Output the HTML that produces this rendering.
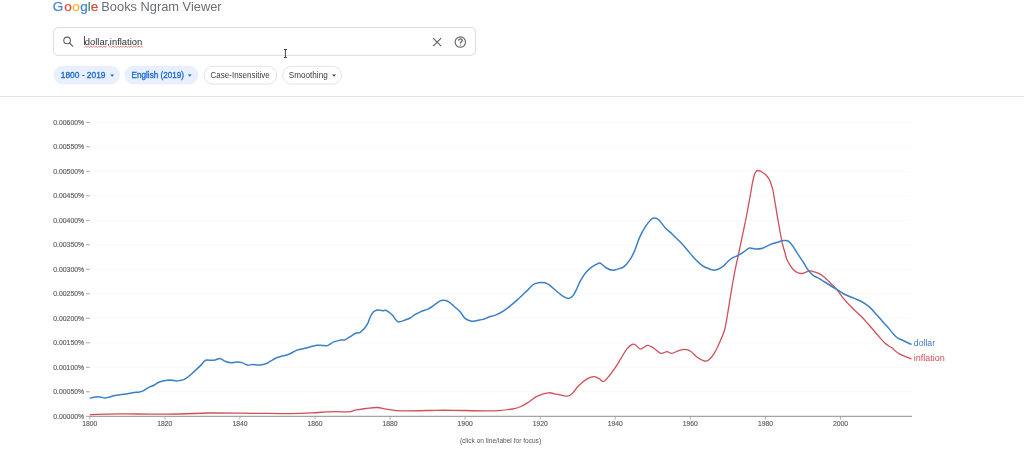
<!DOCTYPE html>
<html lang="en">
<head>
<meta charset="utf-8">
<title>Google Books Ngram Viewer</title>
<style>
html,body{margin:0;padding:0;background:#fff;width:1024px;height:468px;overflow:hidden;}
svg{display:block;position:absolute;left:0;top:0;}
</style>
</head>
<body>
<svg width="1024" height="468" viewBox="0 0 1024 468" font-family="Liberation Sans, Arial, sans-serif">
<text x="52.7 64.3 72.3 80.2 87.7 90.8" y="10.9" font-size="13.6" stroke-width="0.22"><tspan fill="#4781dc" stroke="#4781dc">G</tspan><tspan fill="#df4a3c" stroke="#df4a3c">o</tspan><tspan fill="#f1b52a" stroke="#f1b52a">o</tspan><tspan fill="#4781dc" stroke="#4781dc">g</tspan><tspan fill="#2f9e5a" stroke="#2f9e5a">l</tspan><tspan fill="#df4a3c" stroke="#df4a3c">e</tspan></text>
<text x="101.3" y="11.3" font-size="12.6" textLength="120.3" lengthAdjust="spacingAndGlyphs" fill="#6b6e72" >Books Ngram Viewer</text>
<rect x="53.6" y="27.6" width="421.9" height="27.7" rx="4.5" fill="#fff" stroke="#dadce0" stroke-width="1"/>
<circle cx="67.1" cy="40.4" r="3.3" fill="none" stroke="#5f6368" stroke-width="1.1"/>
<line x1="69.6" y1="43.0" x2="72.6" y2="46.2" stroke="#5f6368" stroke-width="1.2" stroke-linecap="round"/>
<text x="84.8" y="44.6" font-size="9.3" textLength="57.4" lengthAdjust="spacingAndGlyphs" fill="#2a2b2e" >dollar,inflation</text>
<rect x="84.0" y="36.1" width="0.9" height="8.8" fill="#3a3a3a"/>
<path d="M84.4,47.3 l1.3,-1.2 l1.3,1.2 l1.3,-1.2 l1.3,1.2 l1.3,-1.2 l1.3,1.2 l1.3,-1.2 l1.3,1.2 l1.3,-1.2 l1.3,1.2 l1.3,-1.2 l1.3,1.2 l1.3,-1.2 l1.3,1.2 l1.3,-1.2 l1.3,1.2 l1.3,-1.2" fill="none" stroke="#c94848" stroke-width="0.7"/>
<path d="M109.1,47.3 l1.3,-1.2 l1.3,1.2 l1.3,-1.2 l1.3,1.2 l1.3,-1.2 l1.3,1.2 l1.3,-1.2 l1.3,1.2 l1.3,-1.2 l1.3,1.2 l1.3,-1.2 l1.3,1.2 l1.3,-1.2 l1.3,1.2 l1.3,-1.2 l1.3,1.2 l1.3,-1.2 l1.3,1.2 l1.3,-1.2 l1.3,1.2 l1.3,-1.2 l1.3,1.2 l1.3,-1.2 l1.3,1.2 l1.3,-1.2 l1.3,1.2" fill="none" stroke="#c94848" stroke-width="0.7"/>
<path d="M433.1,38.2 L441.1,46.2 M441.1,38.2 L433.1,46.2" stroke="#5f6368" stroke-width="1.15" fill="none"/>
<circle cx="460.3" cy="42.1" r="5.2" fill="none" stroke="#5f6368" stroke-width="1.1"/>
<path d="M458.5,40.7 C458.5,38.4 462.2,38.4 462.2,40.5 C462.2,41.8 460.3,41.9 460.3,43.6" fill="none" stroke="#5f6368" stroke-width="1.25"/>
<circle cx="460.3" cy="45.2" r="0.6" fill="#5f6368"/>
<path d="M283.9,49.5 H286.9 M285.4,49.5 V57.5 M283.9,57.5 H286.9" stroke="#454545" stroke-width="1" fill="none"/>

<g transform="translate(0,0.4)">
<rect x="53.5" y="65.4" width="66.4" height="18.6" rx="9.3" fill="#e8f0fe"/>
<text x="60.8" y="78" font-size="9" textLength="44.7" lengthAdjust="spacingAndGlyphs" fill="#1967d2" stroke="#1967d2" stroke-width="0.32">1800 - 2019</text>
<path d="M110.2,74.2 h3.9 l-1.95,2.1 z" fill="#1967d2"/>
<rect x="124.6" y="65.4" width="73.7" height="18.6" rx="9.3" fill="#e8f0fe"/>
<text x="131.6" y="78" font-size="9" textLength="52.3" lengthAdjust="spacingAndGlyphs" fill="#1967d2" stroke="#1967d2" stroke-width="0.32">English (2019)</text>
<path d="M187.8,74.2 h3.9 l-1.95,2.1 z" fill="#1967d2"/>
<rect x="204.1" y="65.9" width="72.6" height="17.8" rx="8.9" fill="#fff" stroke="#e3e4e6" stroke-width="1"/>
<text x="210.6" y="78" font-size="9" textLength="59.1" lengthAdjust="spacingAndGlyphs" fill="#3c4043" >Case-Insensitive</text>
<rect x="282.7" y="65.9" width="58.8" height="17.8" rx="8.9" fill="#fff" stroke="#e3e4e6" stroke-width="1"/>
<text x="288.75" y="78" font-size="9" textLength="39" lengthAdjust="spacingAndGlyphs" fill="#3c4043" >Smoothing</text>
<path d="M332.1,74.2 h3.9 l-1.95,2.1 z" fill="#3c4043"/>
</g>
<rect x="0" y="96" width="1024" height="1" fill="#e4e4e4"/>

<g><line x1="94" x2="911" y1="391.8" y2="391.8" stroke="#f9f9f9" stroke-width="1"/><line x1="94" x2="911" y1="367.3" y2="367.3" stroke="#f9f9f9" stroke-width="1"/><line x1="94" x2="911" y1="342.8" y2="342.8" stroke="#f9f9f9" stroke-width="1"/><line x1="94" x2="911" y1="318.3" y2="318.3" stroke="#f9f9f9" stroke-width="1"/><line x1="94" x2="911" y1="293.8" y2="293.8" stroke="#f9f9f9" stroke-width="1"/><line x1="94" x2="911" y1="269.3" y2="269.3" stroke="#f9f9f9" stroke-width="1"/><line x1="94" x2="911" y1="244.8" y2="244.8" stroke="#f9f9f9" stroke-width="1"/><line x1="94" x2="911" y1="220.3" y2="220.3" stroke="#f9f9f9" stroke-width="1"/><line x1="94" x2="911" y1="195.8" y2="195.8" stroke="#f9f9f9" stroke-width="1"/><line x1="94" x2="911" y1="171.3" y2="171.3" stroke="#f9f9f9" stroke-width="1"/><line x1="94" x2="911" y1="146.8" y2="146.8" stroke="#f9f9f9" stroke-width="1"/><line x1="94" x2="911" y1="122.3" y2="122.3" stroke="#f9f9f9" stroke-width="1"/></g>
<g><text x="53.2" y="418.7" font-size="8.1" textLength="31" lengthAdjust="spacingAndGlyphs" fill="#606060" stroke="#606060" stroke-width="0.18">0.00000%</text><line x1="86" x2="89.8" y1="416.3" y2="416.3" stroke="#9a9a9a" stroke-width="0.9"/><text x="53.2" y="394.2" font-size="8.1" textLength="31" lengthAdjust="spacingAndGlyphs" fill="#606060" stroke="#606060" stroke-width="0.18">0.00050%</text><line x1="86" x2="89.8" y1="391.8" y2="391.8" stroke="#9a9a9a" stroke-width="0.9"/><text x="53.2" y="369.7" font-size="8.1" textLength="31" lengthAdjust="spacingAndGlyphs" fill="#606060" stroke="#606060" stroke-width="0.18">0.00100%</text><line x1="86" x2="89.8" y1="367.3" y2="367.3" stroke="#9a9a9a" stroke-width="0.9"/><text x="53.2" y="345.2" font-size="8.1" textLength="31" lengthAdjust="spacingAndGlyphs" fill="#606060" stroke="#606060" stroke-width="0.18">0.00150%</text><line x1="86" x2="89.8" y1="342.8" y2="342.8" stroke="#9a9a9a" stroke-width="0.9"/><text x="53.2" y="320.7" font-size="8.1" textLength="31" lengthAdjust="spacingAndGlyphs" fill="#606060" stroke="#606060" stroke-width="0.18">0.00200%</text><line x1="86" x2="89.8" y1="318.3" y2="318.3" stroke="#9a9a9a" stroke-width="0.9"/><text x="53.2" y="296.2" font-size="8.1" textLength="31" lengthAdjust="spacingAndGlyphs" fill="#606060" stroke="#606060" stroke-width="0.18">0.00250%</text><line x1="86" x2="89.8" y1="293.8" y2="293.8" stroke="#9a9a9a" stroke-width="0.9"/><text x="53.2" y="271.7" font-size="8.1" textLength="31" lengthAdjust="spacingAndGlyphs" fill="#606060" stroke="#606060" stroke-width="0.18">0.00300%</text><line x1="86" x2="89.8" y1="269.3" y2="269.3" stroke="#9a9a9a" stroke-width="0.9"/><text x="53.2" y="247.2" font-size="8.1" textLength="31" lengthAdjust="spacingAndGlyphs" fill="#606060" stroke="#606060" stroke-width="0.18">0.00350%</text><line x1="86" x2="89.8" y1="244.8" y2="244.8" stroke="#9a9a9a" stroke-width="0.9"/><text x="53.2" y="222.7" font-size="8.1" textLength="31" lengthAdjust="spacingAndGlyphs" fill="#606060" stroke="#606060" stroke-width="0.18">0.00400%</text><line x1="86" x2="89.8" y1="220.3" y2="220.3" stroke="#9a9a9a" stroke-width="0.9"/><text x="53.2" y="198.2" font-size="8.1" textLength="31" lengthAdjust="spacingAndGlyphs" fill="#606060" stroke="#606060" stroke-width="0.18">0.00450%</text><line x1="86" x2="89.8" y1="195.8" y2="195.8" stroke="#9a9a9a" stroke-width="0.9"/><text x="53.2" y="173.7" font-size="8.1" textLength="31" lengthAdjust="spacingAndGlyphs" fill="#606060" stroke="#606060" stroke-width="0.18">0.00500%</text><line x1="86" x2="89.8" y1="171.3" y2="171.3" stroke="#9a9a9a" stroke-width="0.9"/><text x="53.2" y="149.2" font-size="8.1" textLength="31" lengthAdjust="spacingAndGlyphs" fill="#606060" stroke="#606060" stroke-width="0.18">0.00550%</text><line x1="86" x2="89.8" y1="146.8" y2="146.8" stroke="#9a9a9a" stroke-width="0.9"/><text x="53.2" y="124.7" font-size="8.1" textLength="31" lengthAdjust="spacingAndGlyphs" fill="#606060" stroke="#606060" stroke-width="0.18">0.00600%</text><line x1="86" x2="89.8" y1="122.3" y2="122.3" stroke="#9a9a9a" stroke-width="0.9"/></g>
<g><text x="82.2" y="426.1" font-size="7" textLength="15.1" lengthAdjust="spacingAndGlyphs" fill="#5e5e5e" stroke="#5e5e5e" stroke-width="0.15">1800</text><line x1="89.8" x2="89.8" y1="416.3" y2="419.6" stroke="#a0a0a0" stroke-width="0.8"/><text x="157.3" y="426.1" font-size="7" textLength="15.1" lengthAdjust="spacingAndGlyphs" fill="#5e5e5e" stroke="#5e5e5e" stroke-width="0.15">1820</text><line x1="164.9" x2="164.9" y1="416.3" y2="419.6" stroke="#a0a0a0" stroke-width="0.8"/><text x="232.4" y="426.1" font-size="7" textLength="15.1" lengthAdjust="spacingAndGlyphs" fill="#5e5e5e" stroke="#5e5e5e" stroke-width="0.15">1840</text><line x1="239.9" x2="239.9" y1="416.3" y2="419.6" stroke="#a0a0a0" stroke-width="0.8"/><text x="307.5" y="426.1" font-size="7" textLength="15.1" lengthAdjust="spacingAndGlyphs" fill="#5e5e5e" stroke="#5e5e5e" stroke-width="0.15">1860</text><line x1="315.0" x2="315.0" y1="416.3" y2="419.6" stroke="#a0a0a0" stroke-width="0.8"/><text x="382.5" y="426.1" font-size="7" textLength="15.1" lengthAdjust="spacingAndGlyphs" fill="#5e5e5e" stroke="#5e5e5e" stroke-width="0.15">1880</text><line x1="390.1" x2="390.1" y1="416.3" y2="419.6" stroke="#a0a0a0" stroke-width="0.8"/><text x="457.6" y="426.1" font-size="7" textLength="15.1" lengthAdjust="spacingAndGlyphs" fill="#5e5e5e" stroke="#5e5e5e" stroke-width="0.15">1900</text><line x1="465.1" x2="465.1" y1="416.3" y2="419.6" stroke="#a0a0a0" stroke-width="0.8"/><text x="532.7" y="426.1" font-size="7" textLength="15.1" lengthAdjust="spacingAndGlyphs" fill="#5e5e5e" stroke="#5e5e5e" stroke-width="0.15">1920</text><line x1="540.2" x2="540.2" y1="416.3" y2="419.6" stroke="#a0a0a0" stroke-width="0.8"/><text x="607.7" y="426.1" font-size="7" textLength="15.1" lengthAdjust="spacingAndGlyphs" fill="#5e5e5e" stroke="#5e5e5e" stroke-width="0.15">1940</text><line x1="615.3" x2="615.3" y1="416.3" y2="419.6" stroke="#a0a0a0" stroke-width="0.8"/><text x="682.8" y="426.1" font-size="7" textLength="15.1" lengthAdjust="spacingAndGlyphs" fill="#5e5e5e" stroke="#5e5e5e" stroke-width="0.15">1960</text><line x1="690.4" x2="690.4" y1="416.3" y2="419.6" stroke="#a0a0a0" stroke-width="0.8"/><text x="757.9" y="426.1" font-size="7" textLength="15.1" lengthAdjust="spacingAndGlyphs" fill="#5e5e5e" stroke="#5e5e5e" stroke-width="0.15">1980</text><line x1="765.4" x2="765.4" y1="416.3" y2="419.6" stroke="#a0a0a0" stroke-width="0.8"/><text x="832.9" y="426.1" font-size="7" textLength="15.1" lengthAdjust="spacingAndGlyphs" fill="#5e5e5e" stroke="#5e5e5e" stroke-width="0.15">2000</text><line x1="840.5" x2="840.5" y1="416.3" y2="419.6" stroke="#a0a0a0" stroke-width="0.8"/></g>
<line x1="89.8" x2="912" y1="416.3" y2="416.3" stroke="#8e8e8e" stroke-width="1"/>
<path d="M89.8,414.6 C94.3,414.5 108.9,413.9 117.0,413.8 C125.1,413.7 127.9,414.0 138.4,414.0 C148.9,414.0 168.2,414.2 180.0,414.0 C191.8,413.8 197.1,413.1 209.3,413.0 C221.5,412.9 239.8,413.2 253.2,413.3 C266.6,413.4 280.1,413.7 289.9,413.6 C299.7,413.5 305.7,413.2 311.8,412.9 C317.9,412.6 322.4,412.0 326.5,411.8 C330.6,411.6 332.9,411.6 336.6,411.6 C340.4,411.6 345.7,412.2 349.0,411.9 C352.3,411.6 351.9,410.6 356.5,409.9 C361.1,409.2 371.4,407.6 376.4,407.5 C381.4,407.4 382.0,408.6 386.4,409.1 C390.8,409.7 394.7,410.6 403.0,410.8 C411.3,411.0 427.9,410.4 436.2,410.3 C444.5,410.2 444.5,410.2 452.8,410.3 C461.1,410.4 478.5,410.8 486.0,410.8 C493.5,410.9 493.3,410.9 497.8,410.6 C502.3,410.3 508.9,409.7 512.8,409.0 C516.7,408.3 518.3,407.7 521.0,406.5 C523.7,405.3 526.5,403.4 529.2,401.7 C531.9,400.0 534.2,397.7 537.4,396.2 C540.6,394.7 545.2,393.1 548.4,392.8 C551.6,392.5 553.4,393.6 556.6,394.2 C559.8,394.8 564.8,396.4 567.5,396.2 C570.2,396.0 571.2,394.5 573.0,392.8 C574.8,391.1 576.1,388.3 578.4,386.0 C580.7,383.7 584.1,380.7 586.6,379.1 C589.1,377.6 591.4,376.8 593.5,376.7 C595.6,376.6 597.3,377.7 599.0,378.5 C600.7,379.3 601.9,382.1 603.7,381.5 C605.5,380.9 607.9,377.4 609.9,375.0 C611.9,372.6 613.7,370.0 615.6,367.2 C617.5,364.4 619.2,361.2 621.1,358.2 C623.0,355.2 624.9,351.5 626.7,349.2 C628.6,346.9 630.7,345.0 632.2,344.3 C633.7,343.6 634.3,344.2 635.7,345.0 C637.1,345.8 638.6,349.1 640.6,349.2 C642.6,349.2 645.4,345.5 647.5,345.3 C649.6,345.1 650.9,346.5 653.1,347.8 C655.3,349.1 658.4,352.7 660.7,353.3 C663.0,353.9 665.0,351.7 666.9,351.7 C668.8,351.7 669.9,353.4 671.8,353.3 C673.7,353.2 675.9,351.5 678.1,350.8 C680.3,350.1 682.9,349.3 685.0,349.4 C687.1,349.5 688.5,349.9 690.6,351.3 C692.7,352.7 695.2,355.9 697.5,357.5 C699.8,359.1 702.5,360.6 704.4,361.0 C706.2,361.4 707.0,361.3 708.6,360.0 C710.2,358.7 712.4,356.3 714.2,353.3 C716.1,350.3 718.0,346.1 719.7,342.2 C721.4,338.3 723.3,334.3 724.6,329.7 C725.9,325.1 726.5,320.1 727.5,314.5 C728.5,308.9 729.5,301.8 730.5,296.0 C731.5,290.2 732.4,284.4 733.2,280.0 C734.0,275.6 734.4,273.6 735.2,269.5 C736.0,265.4 737.3,259.8 738.2,255.6 C739.1,251.4 739.8,248.1 740.6,244.3 C741.4,240.5 742.0,237.8 743.0,232.9 C744.0,228.0 745.7,220.2 746.7,215.0 C747.7,209.8 748.4,206.0 749.1,202.0 C749.8,198.0 750.4,194.5 751.0,191.1 C751.6,187.7 752.1,184.4 752.7,181.7 C753.3,179.0 753.8,176.5 754.4,174.8 C755.0,173.1 755.5,172.1 756.1,171.4 C756.7,170.7 757.5,170.5 758.2,170.5 C758.9,170.5 759.6,170.8 760.4,171.2 C761.2,171.6 762.0,172.1 762.9,172.7 C763.8,173.3 764.7,173.9 765.5,174.6 C766.3,175.3 767.0,176.2 767.6,177.0 C768.2,177.8 768.9,178.6 769.4,179.5 C769.9,180.4 770.2,181.3 770.6,182.5 C771.0,183.7 771.5,185.6 771.9,186.8 C772.3,188.1 772.4,187.3 772.9,190.0 C773.4,192.7 774.4,198.5 775.1,202.8 C775.8,207.1 776.5,211.3 777.2,215.6 C777.9,219.9 778.8,224.3 779.5,228.5 C780.2,232.7 781.1,237.3 781.7,240.5 C782.4,243.7 782.9,245.7 783.4,247.5 C783.9,249.3 784.1,249.7 784.6,251.5 C785.1,253.3 785.6,256.2 786.5,258.4 C787.4,260.6 788.5,262.8 789.8,264.8 C791.0,266.8 792.6,268.9 794.0,270.2 C795.4,271.5 796.9,272.4 798.3,272.9 C799.7,273.4 801.2,273.6 802.6,273.4 C804.0,273.2 805.6,272.2 806.8,271.8 C808.0,271.4 808.8,270.9 810.0,270.9 C811.2,270.9 812.9,271.4 814.3,271.8 C815.7,272.2 817.2,272.7 818.6,273.4 C820.0,274.1 821.5,275.0 822.9,276.1 C824.3,277.2 825.7,278.5 827.1,279.8 C828.5,281.1 830.1,282.9 831.5,284.2 C832.9,285.5 833.6,285.7 835.5,287.9 C837.4,290.1 839.9,294.0 842.6,297.3 C845.4,300.6 848.9,304.6 852.0,307.8 C855.1,311.0 858.7,313.8 861.4,316.5 C864.1,319.2 866.0,321.6 868.4,324.3 C870.8,327.0 872.8,329.4 875.5,332.5 C878.2,335.6 882.2,340.6 884.9,343.1 C887.6,345.7 889.6,346.1 891.9,347.8 C894.2,349.6 895.6,351.7 898.9,353.6 C902.2,355.5 909.4,358.1 911.5,359.0" fill="none" stroke="#cf5056" stroke-width="1.3" stroke-linejoin="round"/>
<path d="M89.8,398.3 C90.8,398.1 94.0,397.1 95.7,396.9 C97.4,396.7 98.5,396.7 100.0,396.9 C101.5,397.1 103.2,398.0 104.8,398.0 C106.4,398.0 107.9,397.3 109.6,396.9 C111.3,396.5 113.0,395.8 114.9,395.4 C116.9,395.0 119.2,394.9 121.3,394.6 C123.4,394.3 125.6,394.1 127.7,393.7 C129.8,393.3 132.1,392.7 134.1,392.4 C136.1,392.1 138.0,392.2 139.5,391.9 C141.0,391.6 141.6,391.6 143.2,390.8 C144.8,390.0 147.4,388.0 149.1,387.1 C150.8,386.2 151.8,386.3 153.4,385.5 C155.0,384.7 156.9,383.1 158.7,382.3 C160.5,381.5 162.1,381.1 164.1,380.7 C166.1,380.3 168.5,380.1 170.5,380.1 C172.5,380.2 174.7,380.9 176.3,381.0 C177.9,381.1 178.8,380.7 180.1,380.4 C181.4,380.1 182.5,380.2 184.3,379.3 C186.1,378.4 188.8,376.3 190.7,374.7 C192.6,373.1 194.2,371.6 196.0,369.9 C197.8,368.2 199.8,366.2 201.4,364.6 C203.0,363.0 203.8,361.0 205.6,360.3 C207.4,359.6 210.2,360.4 212.0,360.3 C213.8,360.2 215.0,359.9 216.3,359.6 C217.7,359.3 218.7,358.2 220.1,358.5 C221.5,358.8 223.0,360.5 224.9,361.2 C226.8,361.9 229.2,362.7 231.3,362.8 C233.4,362.9 235.9,361.9 237.7,361.9 C239.5,361.9 240.4,362.1 242.0,362.6 C243.6,363.1 245.5,364.8 247.3,365.1 C249.1,365.4 250.8,364.6 252.6,364.6 C254.4,364.6 256.2,365.1 258.0,365.1 C259.8,365.1 261.7,364.8 263.3,364.4 C264.9,364.0 266.2,363.7 267.6,363.0 C269.0,362.3 270.5,361.1 271.9,360.3 C273.3,359.5 274.6,358.7 276.2,358.0 C277.8,357.3 279.3,356.9 281.4,356.3 C283.5,355.7 286.4,355.2 288.9,354.2 C291.4,353.2 294.1,351.3 296.4,350.4 C298.7,349.5 300.7,349.3 302.8,348.8 C304.9,348.3 306.9,347.8 309.2,347.2 C311.5,346.6 314.6,345.6 316.7,345.3 C318.8,345.0 320.2,345.3 322.0,345.4 C323.8,345.4 325.4,346.2 327.4,345.6 C329.4,345.0 331.7,342.8 333.8,341.9 C335.9,341.0 338.3,340.5 340.2,340.1 C342.1,339.8 343.4,340.3 345.0,339.8 C346.6,339.3 347.9,338.0 349.8,336.9 C351.7,335.8 354.5,333.7 356.2,333.0 C357.9,332.3 358.5,333.4 359.9,332.6 C361.3,331.8 363.4,329.6 364.7,328.0 C366.0,326.4 367.1,324.8 367.9,323.2 C368.7,321.6 368.8,320.3 369.6,318.5 C370.4,316.7 371.6,314.0 372.8,312.6 C374.1,311.2 375.5,310.3 377.1,310.0 C378.7,309.7 380.9,310.6 382.4,310.7 C383.9,310.8 384.6,309.8 386.2,310.5 C387.8,311.2 390.6,313.4 392.1,314.8 C393.6,316.2 394.2,317.8 395.3,319.0 C396.4,320.2 396.9,321.7 398.5,321.9 C400.1,322.1 402.9,320.8 404.9,320.1 C406.8,319.5 408.4,319.0 410.2,318.0 C412.0,317.0 413.8,315.3 415.6,314.2 C417.4,313.1 418.8,312.5 420.9,311.6 C423.0,310.7 426.1,310.1 428.4,308.9 C430.7,307.7 432.9,305.9 434.8,304.6 C436.8,303.3 438.5,301.6 440.1,300.9 C441.7,300.2 443.0,300.1 444.4,300.3 C445.8,300.5 447.1,300.9 448.7,301.9 C450.3,302.9 452.1,304.6 454.0,306.2 C455.9,307.8 458.0,309.5 459.9,311.6 C461.8,313.7 463.3,317.1 465.3,318.7 C467.3,320.3 469.6,321.0 471.7,321.3 C473.8,321.6 476.2,320.6 478.1,320.3 C480.0,320.0 481.5,319.9 483.2,319.4 C484.9,318.9 486.2,317.9 488.3,317.2 C490.4,316.4 493.4,316.0 496.0,314.9 C498.6,313.8 501.1,312.5 503.7,310.8 C506.3,309.1 508.8,307.0 511.4,304.9 C514.0,302.8 516.5,300.5 519.1,298.2 C521.7,295.9 524.4,293.2 526.8,290.9 C529.1,288.6 531.3,285.9 533.2,284.5 C535.1,283.1 536.4,283.1 538.3,282.8 C540.2,282.5 542.8,282.4 544.7,282.8 C546.6,283.2 548.0,284.0 549.9,285.4 C551.8,286.8 554.2,289.2 556.4,291.0 C558.5,292.8 560.8,294.9 562.8,296.2 C564.8,297.4 566.9,298.6 568.6,298.5 C570.3,298.4 571.7,297.2 573.1,295.5 C574.5,293.8 575.6,291.1 576.9,288.5 C578.2,285.9 579.3,282.8 580.8,280.1 C582.3,277.4 584.0,274.6 585.9,272.4 C587.8,270.2 590.2,268.2 592.3,266.7 C594.4,265.2 597.2,263.7 598.7,263.2 C600.2,262.7 600.0,263.0 601.3,263.8 C602.6,264.6 604.5,266.9 606.4,268.0 C608.3,269.1 610.7,270.2 612.8,270.3 C614.9,270.4 617.3,269.2 619.2,268.6 C621.1,268.0 622.5,268.0 624.4,266.4 C626.3,264.8 628.7,261.6 630.5,258.8 C632.3,256.1 633.5,253.4 635.0,249.9 C636.5,246.4 637.7,241.8 639.4,237.9 C641.1,234.0 643.4,229.8 645.4,226.7 C647.4,223.6 649.8,220.6 651.4,219.2 C653.0,217.8 653.9,217.9 655.1,218.0 C656.4,218.1 657.3,218.4 658.9,220.0 C660.5,221.6 662.7,225.0 664.9,227.4 C667.1,229.8 669.8,231.8 672.3,234.2 C674.8,236.6 677.3,239.0 679.8,241.6 C682.3,244.2 684.8,247.0 687.3,249.9 C689.8,252.8 692.3,256.2 694.8,258.8 C697.3,261.4 699.8,263.9 702.3,265.6 C704.8,267.3 707.5,268.2 709.7,269.0 C711.9,269.8 713.5,270.5 715.7,270.1 C717.9,269.7 720.7,268.1 722.7,266.7 C724.7,265.3 726.1,263.0 727.8,261.5 C729.5,260.0 731.2,258.7 732.9,257.7 C734.6,256.7 736.2,256.6 738.1,255.5 C740.0,254.4 742.6,252.5 744.5,251.3 C746.4,250.1 747.7,248.5 749.6,248.1 C751.5,247.7 753.9,249.1 756.0,249.1 C758.1,249.1 760.0,249.1 762.4,248.3 C764.8,247.6 767.5,245.6 770.1,244.6 C772.7,243.6 775.6,243.0 777.8,242.3 C779.9,241.6 781.4,240.8 783.0,240.6 C784.6,240.3 786.3,240.3 787.6,240.8 C788.9,241.3 789.7,242.3 790.8,243.5 C791.9,244.7 792.9,246.2 794.0,247.8 C795.1,249.4 796.1,251.4 797.2,253.1 C798.3,254.8 799.3,256.3 800.4,257.9 C801.5,259.5 802.5,261.0 803.6,262.7 C804.7,264.4 805.7,266.5 806.8,268.1 C807.9,269.7 808.9,271.1 810.0,272.3 C811.1,273.5 812.0,274.6 813.3,275.5 C814.5,276.4 815.9,276.8 817.5,277.7 C819.1,278.6 821.3,279.9 822.9,280.9 C824.5,281.9 824.6,281.9 827.1,283.5 C829.6,285.1 834.9,288.4 837.9,290.2 C840.9,292.0 842.2,293.1 844.9,294.5 C847.6,295.9 851.5,297.2 854.3,298.4 C857.0,299.6 858.8,300.1 861.4,301.5 C864.0,302.9 866.9,304.7 869.6,307.1 C872.3,309.5 874.9,312.9 877.8,316.1 C880.7,319.4 884.1,323.1 887.2,326.6 C890.3,330.1 893.9,334.9 896.6,337.2 C899.3,339.5 901.1,339.5 903.6,340.7 C906.1,341.9 910.2,343.9 911.5,344.5" fill="none" stroke="#3b80c7" stroke-width="1.5" stroke-linejoin="round"/>
<text x="913.8" y="345.9" font-size="8.6" textLength="21.3" lengthAdjust="spacingAndGlyphs" fill="#3b80c7" >dollar</text>
<text x="913.8" y="360.6" font-size="8.6" textLength="31.1" lengthAdjust="spacingAndGlyphs" fill="#cf5056" >inflation</text>
<text x="459.9" y="442.6" font-size="6.6" textLength="81.2" lengthAdjust="spacingAndGlyphs" fill="#585858" >(click on line/label for focus)</text>
</svg>
</body>
</html>
